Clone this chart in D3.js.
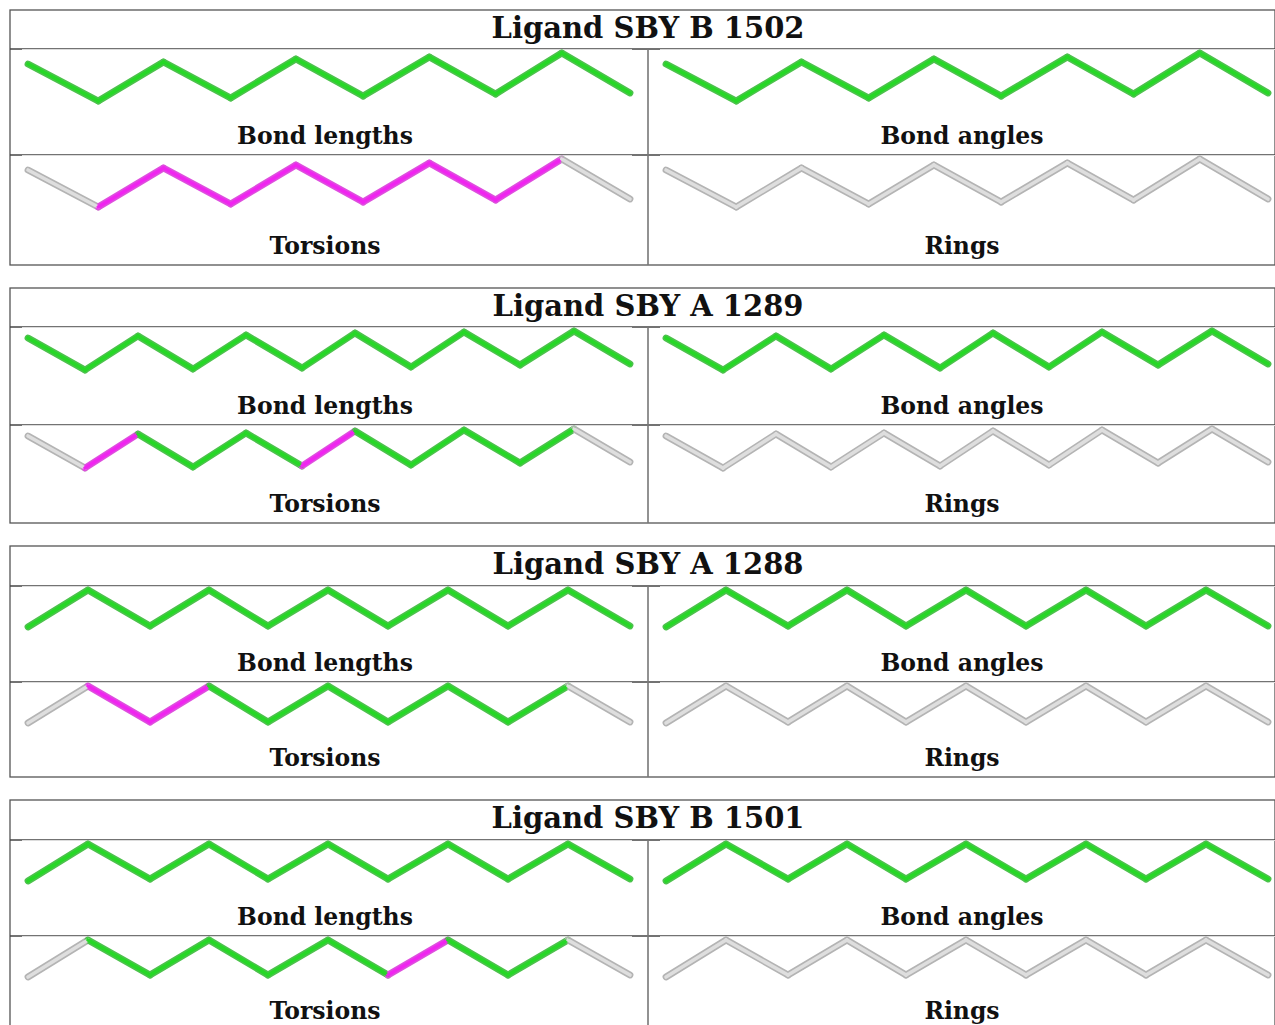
<!DOCTYPE html>
<html>
<head>
<meta charset="utf-8">
<script src="https://cdn.jsdelivr.net/npm/d3@7"></script>
<style>
  body { margin: 0; background: #fff; }
  text { font-family: "DejaVu Serif", serif; font-weight: bold; fill: #111; }
</style>
</head>
<body>
<svg id="chart" width="1275" height="1025"></svg>
<script>
// Заголовки лигандов
const ligandTitles = ["Ligand SBY B 1502", "Ligand SBY A 1289", "Ligand SBY A 1288", "Ligand SBY B 1501"];
const cellLabels = ["Bond lengths", "Bond angles", "Torsions", "Rings"];

// координаты атомов (в пикселях картинки молекулы)
const atomsX_B1502 = [0, 70, 135, 202, 267, 334, 400, 466, 532, 600];
const atomsY_B1502 = [11, 48, 9, 45, 6, 43, 4, 41, 0, 40];
const atomsX_A1289 = [0, 57, 110, 165, 218, 274, 327, 383, 436, 492, 546, 602];
const atomsY_A1289 = [7, 39, 5, 38, 4, 37, 2, 36, 1, 34, 0, 33];
const atomsX_A1288 = [0, 60, 122, 181, 240, 300, 360, 420, 480, 540, 602];
const atomsY_A1288 = [37, 0, 36, 0, 36, 0, 36, 0, 36, 0, 36];
const atomsX_B1501 = [0, 60, 122, 181, 240, 300, 360, 420, 480, 540, 602];
const atomsY_B1501 = [37, 0, 35, 0, 35, 0, 35, 0, 35, 0, 35];

// статус связей в торсионах: ok / outlier / none
const torsions_B1502 = ["none", "outlier", "outlier", "outlier", "outlier", "outlier", "outlier", "outlier", "none"];
const torsions_A1289 = ["none", "outlier", "ok", "ok", "ok", "outlier", "ok", "ok", "ok", "ok", "none"];
const torsions_A1288 = ["none", "outlier", "outlier", "ok", "ok", "ok", "ok", "ok", "ok", "none"];
const torsions_B1501 = ["none", "ok", "ok", "ok", "ok", "ok", "outlier", "ok", "ok", "none"];

const ligands = [
    { title: ligandTitles[0], xs: atomsX_B1502, ys: atomsY_B1502, torsions: torsions_B1502 },
    { title: ligandTitles[1], xs: atomsX_A1289, ys: atomsY_A1289, torsions: torsions_A1289 },
    { title: ligandTitles[2], xs: atomsX_A1288, ys: atomsY_A1288, torsions: torsions_A1288 },
    { title: ligandTitles[3], xs: atomsX_B1501, ys: atomsY_B1501, torsions: torsions_B1501 }
];

// раскладка панелей
const panelTop = [10, 288, 546, 800];
const titleH = [39, 39, 40, 40];
const row1H = [106, 98, 96, 96];
const row2H = [110, 98, 95, 94];

const colors = {
    ok: { outer: "#4cc24c", inner: "#26d826" },
    outlier: { outer: "#de4ede", inner: "#f024f0" },
    none: { outer: "#b4b4b4", inner: "#dedede" }
};

const attr_area = {
    left: 10,
    right: 1275,
    mid: 648,
    imgLeft: [22, 632],
    imgRight: [660, 1276],
    molLeft: [28, 630],
    molRight: [666, 1268]
};

const svg = d3.select("#chart");

function drawMolecule(g, lig, statuses, xRange, top) {
    const scaleX = d3.scaleLinear()
        .domain([0, d3.max(lig.xs)])
        .range(xRange);
    const scaleY = d3.scaleLinear()
        .domain([0, d3.max(lig.ys)])
        .range([top + 4, top + 4 + d3.max(lig.ys)]);

    const bonds = d3.range(lig.xs.length - 1).map(i => ({
        x1: scaleX(lig.xs[i]), y1: scaleY(lig.ys[i]),
        x2: scaleX(lig.xs[i + 1]), y2: scaleY(lig.ys[i + 1]),
        status: statuses[i]
    }));

    ["outer", "inner"].forEach(layer => {
        g.selectAll(null)
            .data(bonds)
            .enter()
            .append("line")
            .attr("x1", d => d.x1)
            .attr("y1", d => d.y1)
            .attr("x2", d => d.x2)
            .attr("y2", d => d.y2)
            .attr("stroke", d => colors[d.status][layer])
            .attr("stroke-width", layer === "outer" ? 6.8 : 3.6)
            .attr("stroke-linecap", "round");
    });
}

function drawPanel(idx) {
    const lig = ligands[idx];
    const top = panelTop[idx];
    const r1 = top + titleH[idx];
    const r2 = r1 + row1H[idx];
    const bottom = r2 + row2H[idx];
    const g = svg.append("g");
    const n = lig.xs.length - 1;

    // рамки
    g.append("rect")
        .attr("x", attr_area.left)
        .attr("y", top)
        .attr("width", attr_area.right - attr_area.left)
        .attr("height", bottom - top)
        .attr("fill", "none")
        .attr("stroke", "#555")
        .attr("stroke-width", 1.3);
    [r1, r2].forEach(y => {
        g.append("line")
            .attr("x1", attr_area.left).attr("x2", attr_area.right)
            .attr("y1", y).attr("y2", y)
            .attr("stroke", "#444").attr("stroke-width", 1.3);
    });
    g.append("line")
        .attr("x1", attr_area.mid).attr("x2", attr_area.mid)
        .attr("y1", r1).attr("y2", bottom)
        .attr("stroke", "#777").attr("stroke-width", 1.6);

    // верхние края картинок
    [r1, r2].forEach(y => {
        [attr_area.imgLeft, attr_area.imgRight].forEach(ext => {
            g.append("line")
                .attr("x1", ext[0]).attr("x2", ext[1])
                .attr("y1", y + 0.5).attr("y2", y + 0.5)
                .attr("stroke", "#dcdcdc").attr("stroke-width", 1.2);
        });
    });

    g.append("text")
        .attr("x", attr_area.mid)
        .attr("y", top + 28)
        .attr("text-anchor", "middle")
        .style("font-size", "29px")
        .text(lig.title);

    const allOk = Array(n).fill("ok");
    const allNone = Array(n).fill("none");

    drawMolecule(g, lig, allOk, attr_area.molLeft, r1);
    drawMolecule(g, lig, allOk, attr_area.molRight, r1);
    drawMolecule(g, lig, lig.torsions, attr_area.molLeft, r2);
    drawMolecule(g, lig, allNone, attr_area.molRight, r2);

    const labelPos = [
        [325, r2 - 11], [962, r2 - 11],
        [325, bottom - 11], [962, bottom - 11]
    ];
    cellLabels.forEach((lbl, i) => {
        g.append("text")
            .attr("x", labelPos[i][0])
            .attr("y", labelPos[i][1])
            .attr("text-anchor", "middle")
            .style("font-size", "23.5px")
            .text(lbl);
    });
}

ligands.forEach((d, i) => drawPanel(i));
</script>
</body>
</html>
